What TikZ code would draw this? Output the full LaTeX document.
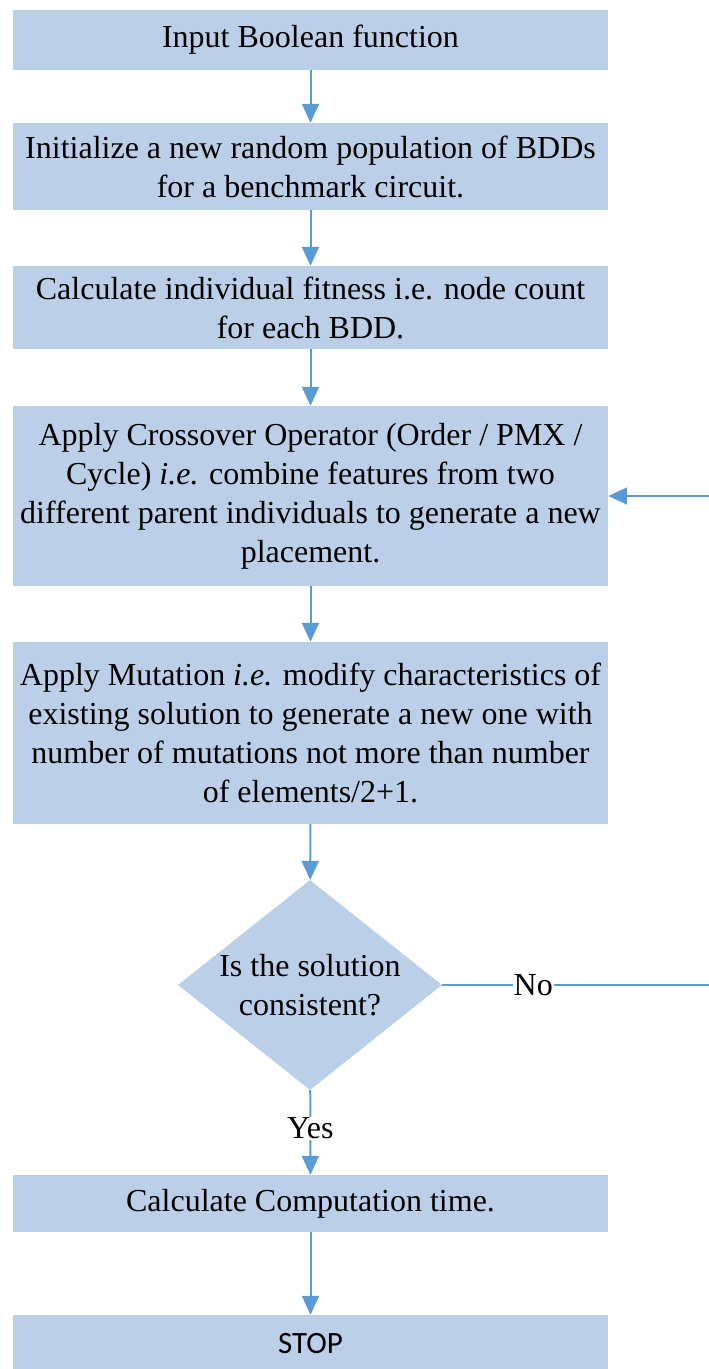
\documentclass[tikz,border=0pt]{standalone}
\usepackage{fontspec}
\setmainfont{LiberationSerif}[Extension=.ttf, UprightFont=*-Regular, ItalicFont=*-Italic, BoldFont=*-Bold, BoldItalicFont=*-BoldItalic]
\newfontfamily\stopfont{Carlito}
\usetikzlibrary{shapes.geometric,arrows.meta}
\definecolor{boxfill}{RGB}{188,207,232}
\definecolor{linecol}{RGB}{91,155,213}
\tikzset{
  procbox/.style={rectangle, fill=boxfill, minimum width=595pt, inner sep=0pt, align=center,
    font=\fontsize{32}{39}\selectfont},
  decbox/.style={diamond, fill=boxfill, minimum width=264pt, minimum height=210pt, inner sep=0pt,
    aspect=1.257, align=center, font=\fontsize{32}{39}\selectfont},
  conn/.style={draw=linecol, line width=2pt},
  arr/.style={conn, -{Triangle[length=19pt,width=17pt]}},
  lbl/.style={fill=white, inner sep=1pt, font=\fontsize{32}{39}\selectfont}
}
\begin{document}
\begin{tikzpicture}[x=1pt,y=-1pt]
\useasboundingbox (0,0) rectangle (709,1369);
\node[procbox, minimum height=60pt] (b1) at (310.5,40) {Input Boolean function};
\node[procbox, minimum height=87pt] (b2) at (310.5,166.5) {Initialize a new random population of BDDs\\for a benchmark circuit.};
\node[procbox, minimum height=83pt] (b3) at (310.5,307.5) {Calculate individual fitness i.e. node count\\for each BDD.};
\node[procbox, minimum height=180pt] (b4) at (310.5,496) {Apply Crossover Operator (Order / PMX /\\Cycle) \textit{i.e.} combine features from two\\different parent individuals to generate a new\\placement.};
\node[procbox, minimum height=182pt] (b5) at (310.5,733) {Apply Mutation \textit{i.e.} modify characteristics of\\existing solution to generate a new one with\\number of mutations not more than number\\of elements/2+1.};
\node[decbox] (d) at (310,985) {Is the solution\\consistent?};
\node[procbox, minimum height=57pt] (b6) at (310.5,1203.5) {Calculate Computation time.};
\node[procbox, minimum height=57pt, font=\stopfont\fontsize{31}{36}\selectfont] (stop) at (310.5,1343.5) {STOP};
\coordinate (c1) at (710,985);
\coordinate (c2) at (710,496);
\draw[arr] (b1) -- (b2);
\draw[arr] (b2) -- (b3);
\draw[arr] (b3) -- (b4);
\draw[arr] (b4) -- (b5);
\draw[arr] (b5) -- (d);
\draw[arr] (d) -- node[lbl, pos=0.45] {Yes} (b6);
\draw[arr] (b6) -- (stop);
\draw[conn] (d.east) -- node[lbl, pos=0.34] {No} (c1) -- (c2);
\draw[arr] (c2) -- (b4.east);
\end{tikzpicture}
\end{document}
